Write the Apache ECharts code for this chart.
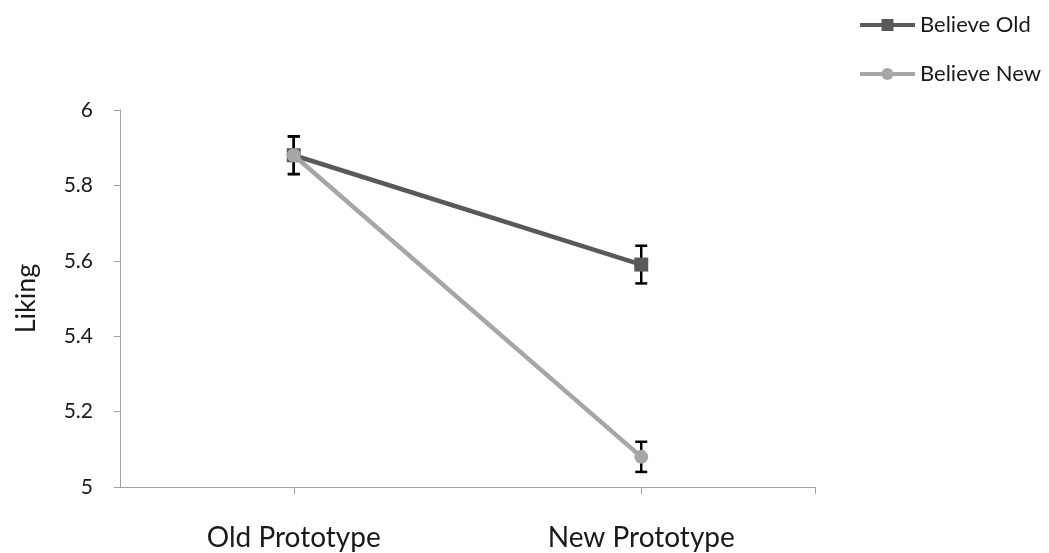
<!DOCTYPE html>
<html>
<head>
<meta charset="utf-8">
<script src="https://cdn.jsdelivr.net/npm/echarts@6/dist/echarts.min.js"></script>
<style>
  html, body { margin: 0; padding: 0; background: #fff; }
  #chart { width: 1049px; height: 553px; }
</style>
</head>
<body>
<div id="chart"></div>
<script>
// Conditions on the horizontal axis
const categories = ['Old Prototype', 'New Prototype'];
// Mean liking per condition
const believeOld = [5.88, 5.59];
const believeNew = [5.88, 5.08];
// Half-width of each error bar
const errOld = [0.05, 0.05];
const errNew = [0.05, 0.04];
// Value axis tick labels
const yTicks = [5, 5.2, 5.4, 5.6, 5.8, 6];

const FONT = 'Lato, "Open Sans", sans-serif';
const TEXT = '#1a1a1a';
const DARK = '#595959';
const LIGHT = '#a6a6a6';

// categories sit at the centre of each band on a 0..N value axis
const pos = categories.map((_, i) => i + 0.5);
const pts = vals => vals.map((v, i) => [pos[i], v]);
const errRows = [];
believeOld.forEach((v, i) => errRows.push([pos[i], v - errOld[i], v + errOld[i]]));
believeNew.forEach((v, i) => errRows.push([pos[i], v - errNew[i], v + errNew[i]]));

const chart = echarts.init(document.getElementById('chart'), null, { renderer: 'canvas' });

chart.setOption({
  animation: false,
  grid: { left: 120, right: 234, top: 110, bottom: 66 },
  legend: {
    orient: 'vertical',
    left: 853,
    top: 9,
    itemWidth: 55,
    itemHeight: 15,
    itemGap: 27,
    lineStyle: { width: 4 },
    textStyle: { fontFamily: FONT, fontSize: 22, color: TEXT },
    data: ['Believe Old', 'Believe New']
  },
  xAxis: {
    type: 'value',
    min: 0,
    max: categories.length,
    axisLine: { show: true, lineStyle: { color: '#a0a0a0', width: 1 } },
    axisTick: { show: true, length: 7, lineStyle: { color: '#a0a0a0' },
      customValues: pos.concat([categories.length]) },
    splitLine: { show: false },
    axisLabel: {
      customValues: pos,
      formatter: v => categories[Math.round(v - 0.5)] || '',
      fontFamily: FONT, fontSize: 28, color: TEXT, margin: 37
    }
  },
  yAxis: {
    type: 'value',
    min: yTicks[0],
    max: yTicks[yTicks.length - 1],
    interval: 0.2,
    name: 'Liking',
    nameLocation: 'middle',
    nameGap: 80,
    nameTextStyle: { fontFamily: FONT, fontSize: 27, color: TEXT },
    axisLine: { show: true, lineStyle: { color: '#a0a0a0', width: 1 } },
    axisTick: { show: true, length: 6, lineStyle: { color: '#a0a0a0' } },
    splitLine: { show: false },
    axisLabel: {
      fontFamily: FONT, fontSize: 21, color: TEXT, margin: 27,
      formatter: v => String(Math.round(v * 10) / 10)
    }
  },
  series: [
    {
      name: 'errorbars',
      type: 'custom',
      z: 1,
      data: errRows,
      renderItem: (params, api) => {
        const x = api.value(0);
        const lo = api.coord([x, api.value(1)]);
        const hi = api.coord([x, api.value(2)]);
        const cap = 6;
        const style = { stroke: '#000', lineWidth: 2.5 };
        return {
          type: 'group',
          children: [
            { type: 'line', shape: { x1: lo[0], y1: lo[1], x2: hi[0], y2: hi[1] }, style },
            { type: 'line', shape: { x1: lo[0] - cap, y1: lo[1], x2: lo[0] + cap, y2: lo[1] }, style },
            { type: 'line', shape: { x1: hi[0] - cap, y1: hi[1], x2: hi[0] + cap, y2: hi[1] }, style }
          ]
        };
      }
    },
    {
      name: 'Believe Old',
      type: 'line',
      z: 2,
      data: pts(believeOld),
      symbol: 'rect',
      symbolSize: 14,
      itemStyle: { color: DARK },
      lineStyle: { color: DARK, width: 4.5 }
    },
    {
      name: 'Believe New',
      type: 'line',
      z: 3,
      data: pts(believeNew),
      symbol: 'circle',
      symbolSize: 14,
      itemStyle: { color: LIGHT },
      lineStyle: { color: LIGHT, width: 4.5 }
    }
  ]
});
</script>
</body>
</html>
